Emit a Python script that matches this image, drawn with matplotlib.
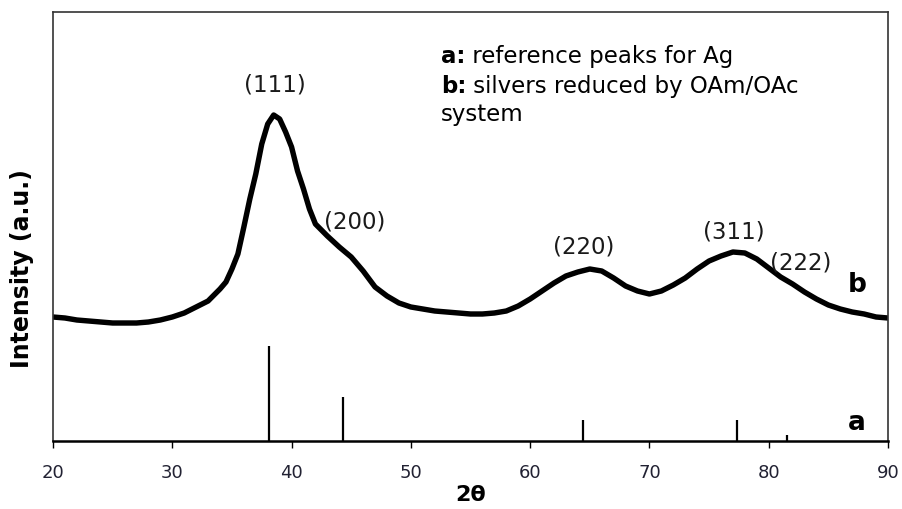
import matplotlib
matplotlib.use("Agg")
import matplotlib.pyplot as plt

# ---- data (intensity in arbitrary units) ----
two_theta = [20, 21, 22, 23, 24, 25, 26, 27, 28, 29, 30, 31, 32, 33, 34, 34.5,
             35, 35.5, 36, 36.5, 37, 37.5, 38, 38.5, 39, 39.5, 40, 40.5, 41,
             41.5, 42, 43, 44, 45, 46, 47, 48, 49, 50, 51, 52, 53, 54, 55, 56,
             57, 58, 59, 60, 61, 62, 63, 64, 65, 66, 67, 68, 69, 70, 71, 72,
             73, 74, 75, 76, 77, 78, 79, 80, 81, 82, 83, 84, 85, 86, 87, 88,
             89, 90]
intensity_b = [124, 123, 121, 120, 119, 118, 118, 118, 119, 121, 124, 128, 134,
               140, 152, 159, 172, 187, 214, 242, 267, 297, 317, 326, 322, 309,
               294, 270, 252, 232, 217, 205, 194, 184, 170, 154, 145, 138, 134,
               132, 130, 129, 128, 127, 127, 128, 130, 135, 142, 150, 158, 165,
               169, 172, 170, 163, 155, 150, 147, 150, 156, 163, 172, 180, 185,
               189, 188, 182, 173, 164, 157, 149, 142, 136, 132, 129, 127, 124,
               123]

ref_pos = [38.1, 44.3, 64.4, 77.35, 81.5]
ref_height = [95, 44, 21, 21, 6]

hkl_labels = ["(111)", "(200)", "(220)", "(311)", "(222)"]
hkl_x = [38.6, 45.3, 64.5, 77.1, 82.7]
hkl_y = [357, 220, 195, 210, 179]

xticks = [20, 30, 40, 50, 60, 70, 80, 90]

# ---- figure ----
fig = plt.figure(figsize=(9.02, 5.10), dpi=100)
ax = fig.add_axes([53 / 902, 68 / 510, 835 / 902, 429 / 510])

ax.plot(two_theta, intensity_b, color="black", linewidth=3.9,
        solid_joinstyle="round", solid_capstyle="butt")
ax.vlines(ref_pos, 0, ref_height, color="black", linewidth=1.6)

for lab, x, y in zip(hkl_labels, hkl_x, hkl_y):
    ax.text(x, y, lab, ha="center", va="center", fontsize=16.5, color="#1a1a1a")

ax.text(87.4, 157, "b", ha="center", va="center", fontsize=19,
        fontweight="bold")
ax.text(87.4, 19, "a", ha="center", va="center", fontsize=19,
        fontweight="bold")

ax.set_xlim(20, 90)
ax.set_ylim(0, 429)
ax.set_xticks(xticks)
ax.set_xticklabels([str(t) for t in xticks], fontsize=13, color="#222233")
ax.set_yticks([])
ax.tick_params(axis="x", direction="out", length=5, width=1, pad=11)

for side in ["top", "right", "left"]:
    ax.spines[side].set_color("#333333")
    ax.spines[side].set_linewidth(1.2)
ax.spines["bottom"].set_color("black")
ax.spines["bottom"].set_linewidth(1.8)

ax.set_xlabel("2θ", fontsize=16, fontweight="bold", labelpad=2)
fig.text(22 / 902, 1 - 269 / 510, "Intensity (a.u.)", rotation=90,
         ha="center", va="center", fontsize=17, fontweight="bold")

# ---- legend-like note with bold keys ----
fig.canvas.draw()
renderer = fig.canvas.get_renderer()
note_x = 441
lines = [("a:", " reference peaks for Ag", 63),
         ("b:", " silvers reduced by OAm/OAc", 93)]
for key, rest, base in lines:
    t = fig.text(note_x / 902, 1 - base / 510, key, fontsize=16.5,
                 fontweight="bold", va="baseline", ha="left")
    bb = t.get_window_extent(renderer)
    fig.text(bb.x1 / 902, 1 - base / 510, rest, fontsize=16.5,
             va="baseline", ha="left")
fig.text(note_x / 902, 1 - 121 / 510, "system", fontsize=16.5,
         va="baseline", ha="left")

fig.savefig("out.png", dpi=100)
